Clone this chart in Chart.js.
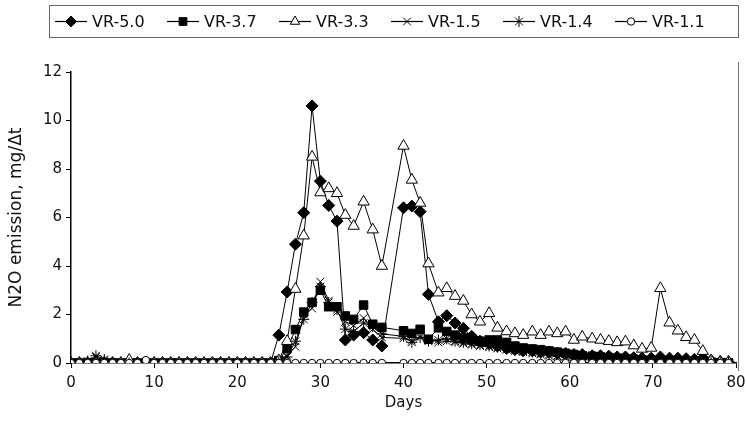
<!DOCTYPE html>
<html><head><meta charset="utf-8">
<script src="https://cdn.jsdelivr.net/npm/chart.js@4"></script>
<style>html,body{margin:0;padding:0;background:#fff}</style>
</head><body>
<canvas id="c" width="746" height="430"></canvas>
<script>
// sampling days (shared by all series)
const days = [0,1,2,3,4,5,6,7,8,9,10,11,12,13,14,15,16,17,18,19,20,21,22,23,24,25,26,27,28,29,30,31,32,33,34,
  35.2,36.3,37.4,40,41,42,43,44.2,45.2,46.2,47.2,48.2,49.2,50.3,51.3,52.4,53.4,54.4,
  55.5,56.5,57.5,58.5,59.5,60.5,61.5,62.7,63.7,64.7,65.7,66.7,67.7,68.7,69.8,70.9,
  72,73,74,75,76,77,78.1,79.1];

const seriesLabels = ['VR-5.0','VR-3.7','VR-3.3','VR-1.5','VR-1.4','VR-1.1'];

const vr50 = [0,0,0,0,0,0,0,0,0,0,0,0,0,0,0,0,0,0,0,0,0,0,0,0,0,
  1.15,2.93,4.9,6.2,10.6,7.5,6.5,5.85,0.95,1.15,1.25,0.95,0.7,
  6.4,6.47,6.24,2.83,1.7,1.95,1.65,1.43,1.1,0.9,0.8,0.7,0.6,0.55,0.5,
  0.5,0.45,0.45,0.4,0.4,0.35,0.35,0.3,0.3,0.28,0.25,0.25,0.22,0.2,0.2,0.25,
  0.2,0.2,0.18,0.15,0.2,0.1,0.05,0.03];

const vr37 = [0,0,0,0,0,0,0,0,0,0,0,0,0,0,0,0,0,0,0,0,0,0,0,0,0,
  0.1,0.6,1.38,2.1,2.5,3.0,2.32,2.32,1.94,1.8,2.39,1.6,1.47,
  1.33,1.22,1.39,0.98,1.45,1.3,1.15,1.05,1.0,0.9,0.95,0.95,0.85,0.7,0.62,
  0.58,0.55,0.5,0.45,0.4,0.35,0.3,0.28,0.25,0.22,0.2,0.18,0.15,0.12,0.1,0.1,
  0.08,0.06,0.05,0.04,0.03,0.02,0,0];

const vr33 = [0,0,0,0,0,0,0,0.12,0,0,0,0,0,0,0,0,0,0,0,0,0,0,0,0,0,
  0.1,0.9,3.05,5.25,8.5,7.03,7.2,7.0,6.1,5.65,6.65,5.5,4.0,
  8.95,7.55,6.6,4.1,2.9,3.08,2.76,2.56,2.0,1.7,2.05,1.45,1.3,1.22,1.15,
  1.29,1.15,1.29,1.22,1.29,0.95,1.08,1.0,0.95,0.9,0.85,0.88,0.72,0.58,0.62,3.08,
  1.66,1.33,1.06,0.95,0.49,0.1,0.05,0.05];

const vr15 = [0,0,0,0.25,0.1,0,0,0,0,0,0,0,0,0,0,0,0,0,0,0,0,0,0,0,0,
  0.1,0.3,0.67,2.0,2.25,3.35,2.57,2.1,1.7,1.55,1.85,1.39,1.05,
  1.02,0.92,1.1,1.0,0.85,0.9,0.85,0.8,0.75,0.7,0.65,0.6,0.55,0.5,0.45,
  0.4,0.35,0.3,0.28,0.25,0.22,0.2,0.18,0.17,0.16,0.15,0.14,0.13,0.12,0.11,0.1,
  0.1,0.09,0.08,0.07,0.06,0.05,0.04,0.03];

const vr14 = [0,0,0.08,0.3,0.15,0,0,0,0,0,0,0,0,0,0,0,0,0,0,0,0,0,0,0,0,
  0.05,0.25,0.9,1.8,2.5,3.15,2.5,2.2,1.4,1.3,1.65,1.5,1.2,
  1.1,0.85,1.05,0.9,0.95,1.0,0.9,0.85,0.8,0.75,0.7,0.65,0.6,0.55,0.5,
  0.45,0.4,0.35,0.3,0.28,0.25,0.22,0.2,0.19,0.18,0.17,0.16,0.15,0.14,0.13,0.12,
  0.11,0.1,0.09,0.08,0.07,0.06,0.05,0.04];

const vr11 = [0,0,0,0,0,0,0,0,0,0.12,0,0,0,0,0,0,0,0,0,0,0,0,0,0,0,
  0,0,0,0,0,0,0,0,0,0,0,0,0,
  0,0,0,0,0,0,0,0,0,0,0,0,0,0,0,
  0,0,0,0,0,0,0,0,0,0,0,0,0,0,0,0,
  0,0,0,0,0,0,0,0];

const xTicks = [0,10,20,30,40,50,60,70,80];
const yTicks = [0,2,4,6,8,10,12];

const seriesValues = [vr50, vr37, vr33, vr15, vr14, vr11];
const styles = [
  {ps:'rectRot', r:6, fill:'#000'},
  {ps:'rect', r:6, fill:'#000'},
  {ps:'triangle', r:6.5, fill:'#fff'},
  {ps:'crossRot', r:5.5, fill:'#000'},
  {ps:'star', r:5.5, fill:'#000'},
  {ps:'circle', r:3.7, fill:'#fff'}
];

const FONT = '"DejaVu Sans", Verdana, sans-serif';

const datasets = seriesLabels.map((lab, i) => ({
  label: lab,
  data: days.map((d, k) => ({x: d, y: seriesValues[i][k]})),
  borderColor: '#000',
  borderWidth: 1,
  backgroundColor: styles[i].fill,
  pointStyle: styles[i].ps,
  pointRadius: styles[i].r,
  pointBorderColor: '#000',
  pointBackgroundColor: styles[i].fill,
  pointBorderWidth: 1,
  tension: 0,
  fill: false,
  order: 6 - i
}));

function drawMarker(ctx, ps, x, y, r, fill) {
  ctx.save();
  ctx.beginPath();
  ctx.lineWidth = 1;
  ctx.strokeStyle = '#000';
  ctx.fillStyle = fill;
  if (ps === 'rectRot') {
    ctx.moveTo(x - r, y); ctx.lineTo(x, y - r); ctx.lineTo(x + r, y); ctx.lineTo(x, y + r); ctx.closePath();
    ctx.fill(); ctx.stroke();
  } else if (ps === 'rect') {
    const s = r * Math.SQRT1_2;
    ctx.rect(x - s, y - s, 2 * s, 2 * s); ctx.fill(); ctx.stroke();
  } else if (ps === 'triangle') {
    for (let k = 0; k < 3; k++) {
      const a = -Math.PI / 2 + k * 2 * Math.PI / 3;
      const px = x + Math.cos(a) * r, py = y + Math.sin(a) * r;
      if (k === 0) ctx.moveTo(px, py); else ctx.lineTo(px, py);
    }
    ctx.closePath(); ctx.fill(); ctx.stroke();
  } else if (ps === 'crossRot') {
    const d = r * Math.SQRT1_2;
    ctx.moveTo(x - d, y - d); ctx.lineTo(x + d, y + d);
    ctx.moveTo(x - d, y + d); ctx.lineTo(x + d, y - d); ctx.stroke();
  } else if (ps === 'star') {
    const d = r * Math.SQRT1_2;
    ctx.moveTo(x - d, y - d); ctx.lineTo(x + d, y + d);
    ctx.moveTo(x - d, y + d); ctx.lineTo(x + d, y - d);
    ctx.moveTo(x - r, y); ctx.lineTo(x + r, y);
    ctx.moveTo(x, y - r); ctx.lineTo(x, y + r); ctx.stroke();
  } else {
    ctx.arc(x, y, r, 0, Math.PI * 2); ctx.fill(); ctx.stroke();
  }
  ctx.restore();
}

const legendPlugin = {
  id: 'boxLegend',
  afterDraw(chart) {
    const ctx = chart.ctx;
    ctx.save();
    ctx.strokeStyle = '#666';
    ctx.lineWidth = 1;
    ctx.strokeRect(49.5, 5.5, 689, 32);
    ctx.font = '16px ' + FONT;
    ctx.fillStyle = '#111';
    ctx.textBaseline = 'middle';
    const y = 21.5;
    chart.data.datasets.forEach((ds, i) => {
      const x0 = 55 + i * 112;
      ctx.beginPath();
      ctx.strokeStyle = '#000';
      ctx.lineWidth = 1.2;
      ctx.moveTo(x0, y); ctx.lineTo(x0 + 32, y); ctx.stroke();
      drawMarker(ctx, styles[i].ps, x0 + 16, y, Math.min(styles[i].r, 5.5), styles[i].fill);
      ctx.fillStyle = '#111';
      ctx.fillText(ds.label, x0 + 37, y + 1);
    });
    // right frame line
    ctx.beginPath();
    ctx.strokeStyle = '#777';
    ctx.lineWidth = 1;
    ctx.moveTo(738.5, chart.chartArea.top - 10);
    ctx.lineTo(738.5, chart.chartArea.bottom + 8);
    ctx.stroke();
    ctx.restore();
  }
};

new Chart(document.getElementById('c'), {
  type: 'line',
  data: { datasets },
  options: {
    responsive: false,
    animation: false,
    devicePixelRatio: 1,
    layout: { padding: { top: 72, right: 10, left: 6, bottom: 18 } },
    plugins: { legend: { display: false }, tooltip: { enabled: false } },
    scales: {
      x: {
        type: 'linear', min: 0, max: 80,
        afterBuildTicks: s => { s.ticks = xTicks.map(v => ({value: v})); },
        afterFit: s => { s.height = 49; s.paddingRight = 0; s.paddingLeft = 0; },
        ticks: { color: '#111', font: { family: FONT, size: 15 }, padding: 6 },
        grid: { display: true, drawOnChartArea: false, drawTicks: true, tickLength: 5, color: '#000' },
        border: { display: true, color: '#000', width: 1.5 },
        title: { display: true, text: 'Days', color: '#111', font: { family: FONT, size: 15 }, padding: { top: 0, bottom: 0 } }
      },
      y: {
        min: 0, max: 12,
        afterBuildTicks: s => { s.ticks = yTicks.map(v => ({value: v})); },
        afterFit: s => { s.width = 65; s.paddingTop = 0; s.paddingBottom = 0; },
        ticks: { color: '#111', font: { family: FONT, size: 15 }, padding: 4 },
        grid: { display: true, drawOnChartArea: false, drawTicks: true, tickLength: 5, color: '#000' },
        border: { display: true, color: '#000', width: 1.5 },
        title: { display: true, text: 'N2O emission, mg/Δt', color: '#111', font: { family: FONT, size: 17 }, padding: { top: 0, bottom: 4 } }
      }
    }
  },
  plugins: [legendPlugin]
});
</script>
</body></html>
